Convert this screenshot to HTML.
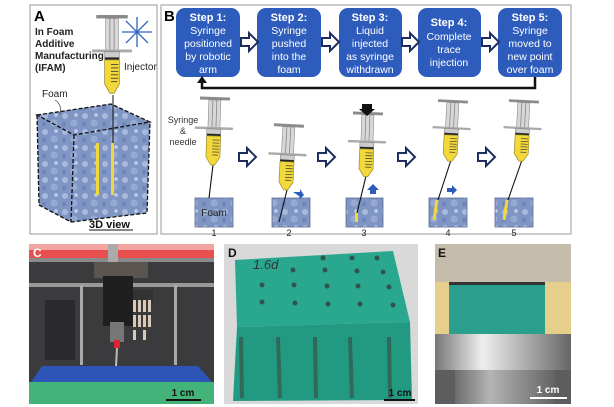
<!DOCTYPE html>
<html><head><meta charset="utf-8"><style>
html,body{margin:0;padding:0;background:#fff;}
svg{display:block;font-family:"Liberation Sans",Arial,sans-serif;}
</style></head><body>
<svg width="614" height="407" viewBox="0 0 614 407" xmlns="http://www.w3.org/2000/svg">
<defs>
  <g id="syr">
    <rect x="-15" y="0" width="30" height="3" fill="#8a8a8a"/>
    <rect x="-6" y="3" width="12" height="28" fill="#d8d8d8" stroke="#888" stroke-width="0.6"/>
    <line x1="-2" y1="3" x2="-2" y2="31" stroke="#888" stroke-width="0.8"/>
    <line x1="2" y1="3" x2="2" y2="31" stroke="#888" stroke-width="0.8"/>
    <rect x="-19" y="30" width="38" height="2.5" fill="#aaa"/>
    <rect x="-7" y="32" width="14" height="5" fill="#ccc" stroke="#777" stroke-width="0.5"/>
    <rect x="-7" y="37" width="14" height="2" fill="#222"/>
    <path d="M-7,39 L7,39 L7,60 L2,68 L-2,68 L-7,60 Z" fill="#f2d83a" stroke="#9a8a2a" stroke-width="0.7"/>
    <g stroke="#333" stroke-width="0.7">
      <line x1="-1" y1="43" x2="6" y2="43"/><line x1="-1" y1="46" x2="6" y2="46"/>
      <line x1="-1" y1="49" x2="6" y2="49"/><line x1="-1" y1="52" x2="6" y2="52"/>
      <line x1="-1" y1="55" x2="6" y2="55"/><line x1="-1" y1="58" x2="5" y2="58"/>
    </g>
  </g>
  <path id="hollow" d="M0,-4 L8,-4 L8,-9 L17,0 L8,9 L8,4 L0,4 Z" fill="#fff" stroke="#1d2d5e" stroke-width="2"/>
  <pattern id="foamp" width="20" height="16" patternUnits="userSpaceOnUse">
    <rect width="20" height="16" fill="#7f95c4"/>
    <circle cx="5" cy="4" r="3" fill="#a9b9dc"/><circle cx="14" cy="11" r="3.5" fill="#98aad3"/>
    <circle cx="16" cy="3" r="1.8" fill="#c4d0ea"/><circle cx="4" cy="12" r="2" fill="#6d84b8"/>
  </pattern>
  <linearGradient id="metal" x1="0" x2="1"><stop offset="0" stop-color="#777"/><stop offset=".35" stop-color="#eee"/><stop offset=".6" stop-color="#bbb"/><stop offset="1" stop-color="#666"/></linearGradient>
</defs>

<!-- Panel A -->
<rect x="30" y="5" width="127" height="229" fill="#fff" stroke="#999" stroke-width="1"/>
<text x="34" y="21" font-size="15" font-weight="bold">A</text>
<g font-size="10" font-weight="bold" fill="#222">
<text x="35" y="35">In Foam</text><text x="35" y="47">Additive</text>
<text x="35" y="59">Manufacturing</text><text x="35" y="71">(IFAM)</text></g>
<g stroke="#2f62c4" stroke-width="1.3">
<line x1="122" y1="32" x2="152" y2="32"/><line x1="137" y1="17" x2="137" y2="47"/>
<line x1="126" y1="21" x2="148" y2="43"/><line x1="126" y1="43" x2="148" y2="21"/></g>
<polygon points="37,115 111,104 150,122 74,135" fill="url(#foamp)"/>
<polygon points="37,115 74,135 71,222 39,205" fill="url(#foamp)"/>
<polygon points="74,135 150,122 147,213 71,222" fill="url(#foamp)"/>
<g fill="none" stroke="#111" stroke-width="1.3" stroke-dasharray="4,2">
<polygon points="37,115 111,104 150,122 74,135"/>
<polyline points="37,115 39,205 71,222 147,213 150,122"/>
<line x1="74" y1="135" x2="71" y2="222"/></g>
<line x1="113" y1="95" x2="113" y2="150" stroke="#111" stroke-width="1"/>
<rect x="96" y="143" width="3" height="52" fill="#f2d83a"/>
<rect x="111" y="143" width="3" height="52" fill="#f2d83a"/>
<use href="#syr" transform="translate(112,15) scale(1.05,1.15)"/>
<text x="124" y="70" font-size="10" fill="#222">Injector</text>
<text x="42" y="97" font-size="10" fill="#222">Foam</text>
<path d="M55,100 Q62,104 60,114" fill="none" stroke="#333" stroke-width="0.7"/>
<text x="89" y="228" font-size="11" font-weight="bold" fill="#111">3D view</text>
<line x1="89" y1="230" x2="133" y2="230" stroke="#111" stroke-width="1"/>

<!-- Panel B -->
<rect x="161" y="5" width="410" height="229" fill="#fff" stroke="#999" stroke-width="1"/>
<text x="164" y="21" font-size="15" font-weight="bold">B</text>
<g fill="#2d5cbd">
<rect x="176" y="8" width="64" height="69" rx="9"/><rect x="257" y="8" width="64" height="69" rx="9"/>
<rect x="339" y="8" width="63" height="69" rx="9"/><rect x="418" y="8" width="63" height="69" rx="9"/>
<rect x="498" y="8" width="64" height="69" rx="9"/></g>
<g fill="#fff" font-size="10.5" text-anchor="middle">
<text x="208" y="21" font-weight="bold" font-size="11">Step 1:</text><text x="208" y="34">Syringe</text><text x="208" y="47">positioned</text><text x="208" y="60">by robotic</text><text x="208" y="73">arm</text>
<text x="289" y="21" font-weight="bold" font-size="11">Step 2:</text><text x="289" y="34">Syringe</text><text x="289" y="47">pushed</text><text x="289" y="60">into the</text><text x="289" y="73">foam</text>
<text x="370" y="21" font-weight="bold" font-size="11">Step 3:</text><text x="370" y="34">Liquid</text><text x="370" y="47">injected</text><text x="370" y="60">as syringe</text><text x="370" y="73">withdrawn</text>
<text x="449" y="26" font-weight="bold" font-size="11">Step 4:</text><text x="449" y="40">Complete</text><text x="449" y="53">trace</text><text x="449" y="66">injection</text>
<text x="530" y="21" font-weight="bold" font-size="11">Step 5:</text><text x="530" y="34">Syringe</text><text x="530" y="47">moved to</text><text x="530" y="60">new point</text><text x="530" y="73">over foam</text></g>
<use href="#hollow" transform="translate(241,42)"/><use href="#hollow" transform="translate(322,42)"/>
<use href="#hollow" transform="translate(402,42)"/><use href="#hollow" transform="translate(482,42)"/>
<polyline points="535,77 535,88 202,88 202,82" fill="none" stroke="#111" stroke-width="2.5"/>
<polygon points="197,83 202,76 207,83" fill="#111"/>

<!-- foam boxes -->
<g stroke="#5a6a90" stroke-width="0.8" fill="url(#foamp)">
<rect x="195" y="198" width="38" height="29"/><rect x="272" y="198" width="38" height="29"/>
<rect x="346" y="198" width="37" height="29"/><rect x="429" y="198" width="38" height="29"/>
<rect x="495" y="198" width="38" height="29"/></g>
<text x="214" y="216" font-size="10" text-anchor="middle" fill="#222">Foam</text>
<g font-size="9" text-anchor="middle" fill="#222">
<text x="214" y="236">1</text><text x="289" y="236">2</text><text x="364" y="236">3</text><text x="448" y="236">4</text><text x="514" y="236">5</text></g>
<rect x="355" y="212" width="3" height="10" fill="#f2d83a"/>
<line x1="437" y1="200" x2="434" y2="220" stroke="#f2d83a" stroke-width="3"/>
<line x1="507" y1="200" x2="504" y2="220" stroke="#f2d83a" stroke-width="3"/>
<!-- needles -->
<g stroke="#111" stroke-width="1.1">
<line x1="213" y1="165" x2="209" y2="198"/><line x1="287" y1="190" x2="279" y2="222"/>
<line x1="366" y1="176" x2="357" y2="213"/><line x1="451" y1="160" x2="438" y2="200"/>
<line x1="522" y1="160" x2="508" y2="200"/></g>
<use href="#syr" transform="translate(215,97) rotate(2)"/>
<use href="#syr" transform="translate(289,124) rotate(3) scale(1,0.97)"/>
<use href="#syr" transform="translate(368,112) rotate(2) scale(1,0.95)"/>
<use href="#syr" transform="translate(453,100) rotate(3) scale(1,0.9)"/>
<use href="#syr" transform="translate(524,100) rotate(3) scale(1,0.9)"/>
<polygon points="362,104 372,104 372,109 375,109 367,116 359,109 362,109" fill="#111"/>
<g font-size="9" fill="#333" text-anchor="middle"><text x="183" y="123">Syringe</text><text x="183" y="134">&amp;</text><text x="183" y="145">needle</text></g>
<use href="#hollow" transform="translate(239,157)"/><use href="#hollow" transform="translate(318,157)"/>
<use href="#hollow" transform="translate(398,157)"/><use href="#hollow" transform="translate(478,157)"/>
<g fill="#2d5cbd">
<polygon points="293,192 300,192 300,189 304,195 300,199 299,196"/>
<polygon points="370,194 370,190 367,190 373,184 379,190 376,190 376,194"/>
<polygon points="447,188 452,188 452,185 457,190 452,195 452,192 447,192"/></g>

<!-- Panel C -->
<rect x="29" y="244" width="185" height="160" fill="#3b3b3d"/>
<rect x="29" y="244" width="185" height="14" fill="#e8504f"/>
<rect x="29" y="244" width="185" height="6" fill="#f2a5a0"/>
<rect x="29" y="258" width="185" height="4" fill="#8a8a8a"/>
<rect x="29" y="283" width="185" height="4" fill="#999"/>
<rect x="45" y="300" width="30" height="60" fill="#2a2a2c"/>
<rect x="108" y="244" width="10" height="20" fill="#aaa"/>
<rect x="94" y="262" width="54" height="16" fill="#5a5550"/>
<rect x="103" y="276" width="30" height="50" fill="#1f1f1f"/>
<rect x="133" y="290" width="20" height="12" fill="#333"/>
<rect x="110" y="322" width="14" height="20" fill="#777"/>
<rect x="114" y="340" width="6" height="8" fill="#d23"/>
<line x1="117" y1="348" x2="116" y2="366" stroke="#bbb" stroke-width="2"/>
<rect x="80" y="285" width="3" height="80" fill="#aaa"/><rect x="174" y="285" width="3" height="80" fill="#aaa"/>
<g fill="#d9c9b8"><rect x="133" y="300" width="3" height="12"/><rect x="138" y="300" width="3" height="12"/><rect x="143" y="300" width="3" height="12"/><rect x="148" y="300" width="3" height="12"/>
<rect x="133" y="315" width="3" height="12"/><rect x="138" y="315" width="3" height="12"/><rect x="143" y="315" width="3" height="12"/><rect x="148" y="315" width="3" height="12"/><rect x="133" y="330" width="3" height="10"/><rect x="143" y="330" width="3" height="10"/></g>
<polygon points="42,366 198,366 212,382 31,382" fill="#2d55b8"/>
<rect x="29" y="382" width="185" height="22" fill="#43b37a"/>
<text x="33" y="257" font-size="12" font-weight="bold" fill="#fff">C</text>
<rect x="166" y="399" width="35" height="2" fill="#111"/>
<text x="183" y="396" font-size="10" font-weight="bold" text-anchor="middle" fill="#111">1 cm</text>

<!-- Panel D -->
<rect x="224" y="244" width="194" height="160" fill="#d9d9d9"/>
<polygon points="235,260 393,251 410,322 237,327" fill="#2aa88f"/>
<polygon points="237,327 410,322 412,400 233,401" fill="#229a82"/>
<g fill="#33413a" opacity=".8">
<circle cx="323" cy="258" r="2.5"/><circle cx="352" cy="258" r="2.5"/><circle cx="377" cy="258" r="2.5"/>
<circle cx="293" cy="270" r="2.5"/><circle cx="325" cy="270" r="2.5"/><circle cx="357" cy="271" r="2.5"/><circle cx="383" cy="272" r="2.5"/>
<circle cx="262" cy="285" r="2.5"/><circle cx="294" cy="285" r="2.5"/><circle cx="327" cy="286" r="2.5"/><circle cx="358" cy="286" r="2.5"/><circle cx="389" cy="287" r="2.5"/>
<circle cx="262" cy="302" r="2.5"/><circle cx="295" cy="303" r="2.5"/><circle cx="328" cy="304" r="2.5"/><circle cx="360" cy="304" r="2.5"/><circle cx="393" cy="305" r="2.5"/></g>
<g stroke="#3a4a40" stroke-width="4" opacity=".6">
<line x1="241" y1="337" x2="242" y2="398"/><line x1="278" y1="337" x2="280" y2="398"/><line x1="315" y1="337" x2="316" y2="398"/><line x1="350" y1="337" x2="352" y2="398"/><line x1="389" y1="337" x2="390" y2="398"/></g>
<text x="253" y="269" font-size="13" font-style="italic" fill="#333">1.6d</text>
<text x="228" y="257" font-size="12" font-weight="bold" fill="#111">D</text>
<rect x="384" y="399" width="31" height="2" fill="#111"/>
<text x="400" y="396" font-size="10" font-weight="bold" text-anchor="middle" fill="#111">1 cm</text>

<!-- Panel E -->
<rect x="435" y="244" width="136" height="160" fill="#b9ad97"/>
<rect x="435" y="244" width="136" height="38" fill="#c5bcab"/>
<rect x="435" y="282" width="136" height="52" fill="#e6cf8a"/>
<rect x="449" y="282" width="96" height="52" fill="#2a9f8e"/>
<rect x="449" y="282" width="96" height="3" fill="#333"/>
<rect x="435" y="334" width="136" height="36" fill="url(#metal)"/>
<rect x="435" y="370" width="136" height="34" fill="#5d5d5f"/>
<rect x="455" y="370" width="100" height="34" fill="url(#metal)" opacity=".6"/>
<text x="438" y="257" font-size="12" font-weight="bold" fill="#111">E</text>
<rect x="530" y="397" width="37" height="2" fill="#fff"/>
<text x="548" y="393" font-size="10" font-weight="bold" text-anchor="middle" fill="#fff">1 cm</text>
</svg>
</body></html>
